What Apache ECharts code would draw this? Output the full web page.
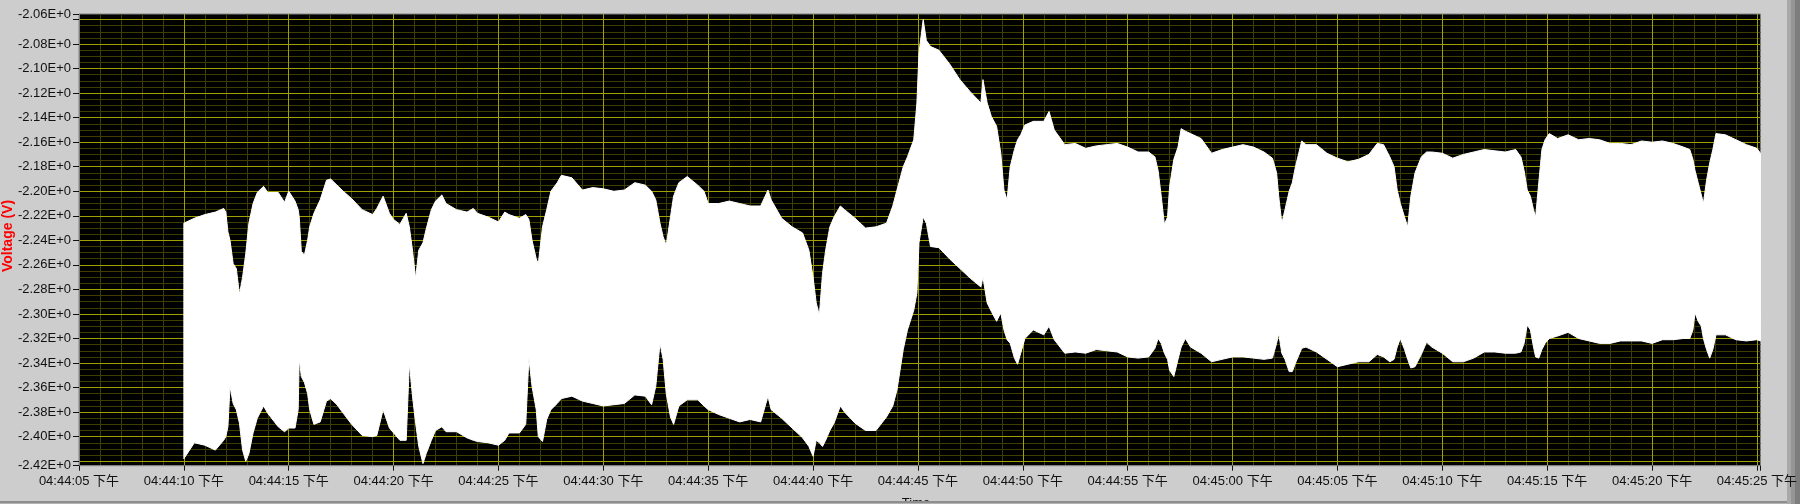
<!DOCTYPE html>
<html><head><meta charset="utf-8">
<script src="https://cdn.jsdelivr.net/npm/echarts@6/dist/echarts.min.js"></script>
<style>html,body{margin:0;padding:0;background:#cdcdcd;}#c{width:1800px;height:504px;}</style>
</head><body><div id="c"></div>
<script>
// seconds elapsed since 04:44:05 PM
const secondsFrom044405 = [
  5.0,5.5,6.0,6.5,6.9,7.0,7.1,7.2,7.35,7.5,7.65,7.8,7.95,8.1,8.3,8.5,8.8,
  9.0,9.5,9.8,10.0,10.3,10.45,10.5,10.6,10.75,10.9,11.0,11.2,11.5,11.8,12.0,12.3,12.6,
  13.0,13.5,14.0,14.2,14.5,14.8,15.0,15.3,15.6,15.75,15.9,16.05,16.2,16.4,16.55,16.8,17.0,17.3,
  17.5,18.0,18.5,18.8,19.0,19.5,20.0,20.3,20.5,21.0,21.3,21.45,21.6,21.8,21.9,22.1,22.3,22.5,22.8,
  23.0,23.5,24.0,24.5,25.0,25.5,26.0,26.5,27.0,27.3,27.5,27.7,27.85,28.0,28.2,28.35,28.6,29.0,29.5,29.8,30.0,
  30.5,31.0,31.5,32.0,32.5,32.85,33.0,33.5,34.0,34.5,34.8,35.0,35.15,35.3,35.45,35.6,35.8,36.0,36.3,36.5,
  37.0,37.5,38.0,38.5,38.8,39.0,39.3,39.5,39.8,39.95,40.05,40.25,40.4,40.6,41.0,41.5,42.0,42.5,43.0,
  43.1,43.3,43.5,43.75,43.95,44.1,44.25,44.4,44.6,44.75,44.9,45.1,45.5,46.0,46.25,46.5,47.0,
  47.5,48.0,48.5,49.0,49.5,50.0,50.5,51.0,51.3,51.45,51.6,51.75,51.9,52.0,52.2,52.4,52.55,52.75,53.0,
  53.5,54.0,54.5,55.0,55.5,56.0,56.5,56.9,57.1,57.2,57.35,57.5,57.7,57.85,58.0,58.3,58.5,
  59.0,59.5,60.0,60.5,61.0,61.5,61.9,62.2,62.5,62.7,62.85,63.0,63.2,63.35,63.5,63.7,64.0,64.25,64.5,
  65.0,65.5,66.0,66.5,67.0,67.5,68.0,68.5,68.75,68.9,69.05,69.2,69.35,69.45,69.6,69.75,69.9,70.1,
  70.5,71.0,71.5,72.0,72.5,73.0,73.5,74.0,74.5,75.0,75.5,76.0,76.5,76.8,
  76.95,77.05,77.2,77.35,77.45,77.6,77.75,77.9,78.05,78.5,79.0,79.5,80.0,80.17
];
// upper envelope of the voltage trace (V)
const upperV = [
  -2.226,-2.222,-2.219,-2.217,-2.214,-2.217,-2.233,-2.240,-2.259,-2.263,-2.284,-2.270,-2.251,-2.226,-2.210,-2.201,-2.196,
  -2.201,-2.201,-2.209,-2.200,-2.208,-2.215,-2.221,-2.249,-2.252,-2.240,-2.229,-2.218,-2.207,-2.191,-2.190,-2.195,-2.200,
  -2.206,-2.215,-2.219,-2.214,-2.204,-2.218,-2.223,-2.227,-2.218,-2.229,-2.248,-2.271,-2.248,-2.242,-2.231,-2.215,-2.208,-2.203,
  -2.210,-2.215,-2.217,-2.214,-2.218,-2.221,-2.225,-2.217,-2.219,-2.222,-2.219,-2.223,-2.240,-2.255,-2.259,-2.229,-2.215,-2.200,-2.193,
  -2.187,-2.189,-2.199,-2.197,-2.198,-2.200,-2.199,-2.193,-2.195,-2.200,-2.207,-2.226,-2.237,-2.244,-2.221,-2.204,-2.193,-2.188,-2.195,-2.200,-2.210,
  -2.210,-2.208,-2.210,-2.212,-2.212,-2.199,-2.207,-2.222,-2.229,-2.234,-2.248,-2.270,-2.291,-2.301,-2.267,-2.248,-2.229,-2.221,-2.212,-2.215,
  -2.222,-2.230,-2.229,-2.226,-2.212,-2.199,-2.180,-2.172,-2.158,-2.128,-2.087,-2.060,-2.077,-2.082,-2.085,-2.096,-2.109,-2.119,-2.128,
  -2.109,-2.128,-2.139,-2.147,-2.169,-2.199,-2.207,-2.180,-2.166,-2.158,-2.154,-2.146,-2.143,-2.143,-2.135,-2.150,-2.162,
  -2.161,-2.165,-2.163,-2.162,-2.161,-2.164,-2.168,-2.168,-2.172,-2.183,-2.204,-2.227,-2.221,-2.196,-2.174,-2.164,-2.149,-2.151,-2.153,
  -2.157,-2.169,-2.166,-2.164,-2.162,-2.164,-2.168,-2.173,-2.185,-2.204,-2.226,-2.215,-2.200,-2.193,-2.180,-2.159,-2.162,
  -2.162,-2.169,-2.173,-2.176,-2.174,-2.170,-2.161,-2.162,-2.172,-2.180,-2.199,-2.210,-2.221,-2.229,-2.204,-2.185,-2.172,-2.168,-2.168,
  -2.169,-2.173,-2.170,-2.168,-2.166,-2.167,-2.168,-2.166,-2.172,-2.183,-2.199,-2.204,-2.215,-2.221,-2.193,-2.166,-2.158,-2.153,
  -2.157,-2.154,-2.158,-2.157,-2.158,-2.161,-2.161,-2.162,-2.159,-2.160,-2.159,-2.161,-2.164,-2.166,
  -2.174,-2.183,-2.193,-2.203,-2.210,-2.191,-2.177,-2.166,-2.153,-2.154,-2.158,-2.162,-2.165,-2.169
];
// lower envelope of the voltage trace (V)
const lowerV = [
  -2.418,-2.405,-2.407,-2.411,-2.403,-2.400,-2.392,-2.359,-2.373,-2.378,-2.389,-2.411,-2.420,-2.414,-2.397,-2.385,-2.375,
  -2.381,-2.392,-2.396,-2.393,-2.393,-2.378,-2.336,-2.351,-2.356,-2.365,-2.378,-2.390,-2.388,-2.371,-2.369,-2.374,-2.381,
  -2.390,-2.399,-2.400,-2.399,-2.378,-2.393,-2.397,-2.403,-2.403,-2.340,-2.367,-2.389,-2.408,-2.422,-2.414,-2.403,-2.395,-2.392,
  -2.396,-2.396,-2.401,-2.403,-2.404,-2.405,-2.407,-2.403,-2.397,-2.397,-2.390,-2.336,-2.359,-2.378,-2.400,-2.404,-2.386,-2.378,-2.373,
  -2.369,-2.367,-2.371,-2.373,-2.375,-2.374,-2.373,-2.366,-2.367,-2.374,-2.359,-2.324,-2.337,-2.365,-2.384,-2.390,-2.375,-2.370,-2.370,-2.375,-2.378,
  -2.382,-2.385,-2.388,-2.386,-2.388,-2.367,-2.378,-2.385,-2.393,-2.401,-2.408,-2.416,-2.403,-2.405,-2.408,-2.403,-2.395,-2.389,-2.375,-2.380,
  -2.389,-2.395,-2.395,-2.384,-2.375,-2.362,-2.329,-2.313,-2.297,-2.283,-2.242,-2.221,-2.226,-2.245,-2.246,-2.255,-2.263,-2.271,-2.278,
  -2.270,-2.291,-2.298,-2.306,-2.299,-2.313,-2.321,-2.324,-2.336,-2.341,-2.332,-2.320,-2.313,-2.317,-2.310,-2.321,-2.332,
  -2.331,-2.332,-2.329,-2.330,-2.331,-2.335,-2.336,-2.335,-2.328,-2.320,-2.324,-2.332,-2.337,-2.346,-2.351,-2.337,-2.327,-2.320,-2.327,
  -2.332,-2.339,-2.337,-2.335,-2.335,-2.336,-2.337,-2.336,-2.324,-2.316,-2.332,-2.337,-2.347,-2.347,-2.340,-2.328,-2.327,
  -2.331,-2.337,-2.343,-2.341,-2.339,-2.339,-2.333,-2.335,-2.339,-2.337,-2.327,-2.320,-2.329,-2.337,-2.344,-2.343,-2.333,-2.323,-2.327,
  -2.332,-2.339,-2.339,-2.336,-2.331,-2.331,-2.332,-2.332,-2.331,-2.324,-2.309,-2.313,-2.327,-2.335,-2.336,-2.329,-2.324,-2.320,
  -2.318,-2.315,-2.320,-2.322,-2.324,-2.324,-2.322,-2.322,-2.322,-2.324,-2.321,-2.321,-2.320,-2.320,
  -2.313,-2.299,-2.306,-2.310,-2.320,-2.329,-2.336,-2.329,-2.317,-2.317,-2.321,-2.322,-2.321,-2.322
];
const xTickLabels = [
  '04:44:05 下午','04:44:10 下午','04:44:15 下午','04:44:20 下午','04:44:25 下午','04:44:30 下午',
  '04:44:35 下午','04:44:40 下午','04:44:45 下午','04:44:50 下午','04:44:55 下午','04:45:00 下午',
  '04:45:05 下午','04:45:10 下午','04:45:15 下午','04:45:20 下午','04:45:25 下午'
];
const yTickValues = [-2.42,-2.40,-2.38,-2.36,-2.34,-2.32,-2.30,-2.28,-2.26,-2.24,-2.22,-2.20,-2.18,-2.16,-2.14,-2.12,-2.10,-2.08,-2.06];
const yTickLabels = ['-2.42E+0','-2.40E+0','-2.38E+0','-2.36E+0','-2.34E+0','-2.32E+0','-2.30E+0','-2.28E+0','-2.26E+0','-2.24E+0','-2.22E+0','-2.20E+0','-2.18E+0','-2.16E+0','-2.14E+0','-2.12E+0','-2.10E+0','-2.08E+0','-2.06E+0'];
const yMin = -2.4237, yMax = -2.0555, xMax = 80.17;

const FONT = "'Liberation Sans','Noto Sans CJK SC',sans-serif";
const MAJOR = '#a0a000', MINOR = '#3e3e00';

// dataset rows: [time, upper, lower]
const envelopeRows = secondsFrom044405.map((t, i) => [t, upperV[i], lowerV[i]]);

function yFmt(v) {
  if (Math.abs(v - yMin) < 1e-6) return yTickLabels[0];
  if (Math.abs(v - yMax) < 1e-6) return yTickLabels[yTickLabels.length - 1];
  for (let i = 1; i < yTickValues.length - 1; i++) {
    if (Math.abs(v - yTickValues[i]) < 1e-6) return yTickLabels[i];
  }
  return '';
}
function xFmt(v) {
  const i = Math.round(v / 5);
  if (Math.abs(v - i * 5) < 1e-6 && i >= 0 && i < xTickLabels.length) return xTickLabels[i];
  return '';
}

// one filled polygon: upper edge left->right, lower edge right->left, positioned via api.coord
function renderEnvelope(params, api) {
  if (params.dataIndexInside !== 0) return null;
  const n = params.dataInsideLength;
  const top = [], bottom = [];
  for (let j = 0; j < n; j++) {
    const t = api.value(0, j);
    top.push(api.coord([t, api.value(1, j)]));
    bottom.push(api.coord([t, api.value(2, j)]));
  }
  const points = top.concat(bottom.reverse());
  return {
    type: 'polygon',
    shape: {points: points},
    style: {fill: '#ffffff', stroke: '#ffffff', lineWidth: 1}
  };
}

const chart = echarts.init(document.getElementById('c'), null, {renderer: 'canvas'});
chart.setOption({
  animation: false,
  backgroundColor: '#cdcdcd',
  grid: {left: 79, right: 24, top: 14, bottom: 38.3, show: true, backgroundColor: '#000', borderColor: '#808080', borderWidth: 1},
  xAxis: [
    {type: 'value', min: 0, max: xMax, interval: 5, position: 'bottom', z: 1,
     axisLine: {show: true, lineStyle: {color: '#808080'}},
     axisTick: {show: true, length: 5, lineStyle: {color: '#111'}},
     axisLabel: {show: true, formatter: xFmt, color: '#111', fontSize: 13, fontFamily: FONT, margin: 9},
     splitLine: {show: true, showMinLine: false, showMaxLine: false, lineStyle: {color: MAJOR, width: 1}}},
    {type: 'value', min: 0, max: xMax, interval: 1, position: 'bottom', z: 0,
     axisLine: {show: false}, axisTick: {show: false}, axisLabel: {show: false},
     splitLine: {show: true, showMinLine: false, showMaxLine: false, lineStyle: {color: MINOR, width: 1}}}
  ],
  yAxis: [
    {type: 'value', min: yMin, max: yMax, minInterval: 0.02, maxInterval: 0.02, splitNumber: 18, z: 1,
     axisLine: {show: true, lineStyle: {color: '#808080'}},
     axisTick: {show: true, length: 6, lineStyle: {color: '#111'}},
     axisLabel: {show: true, formatter: yFmt, color: '#111', fontSize: 13, fontFamily: FONT, margin: 8},
     splitLine: {show: true, showMinLine: false, showMaxLine: false, lineStyle: {color: MAJOR, width: 1}}},
    {type: 'value', min: yMin, max: yMax, minInterval: 0.005, maxInterval: 0.005, splitNumber: 74, z: 0,
     axisLine: {show: false}, axisTick: {show: false}, axisLabel: {show: false},
     splitLine: {show: true, showMinLine: false, showMaxLine: false, lineStyle: {color: MINOR, width: 1}}}
  ],
  series: [
    {type: 'custom', name: 'Voltage', xAxisIndex: 0, yAxisIndex: 0, data: envelopeRows,
     encode: {x: 0, y: [1, 2]}, renderItem: renderEnvelope, clip: true, silent: true, z: 3}
  ],
  graphic: [
    {type: 'rect', z: 0, shape: {x: 1787, y: 0, width: 4, height: 504}, style: {fill: '#a9a9a9'}},
    {type: 'rect', z: 0, shape: {x: 1791, y: 0, width: 4, height: 504}, style: {fill: '#959595'}},
    {type: 'rect', z: 0, shape: {x: 1795, y: 0, width: 5, height: 504}, style: {fill: '#7d7d7d'}},
    {type: 'text', z: 1, style: {x: 916, y: 497, text: 'Time', textAlign: 'center', textVerticalAlign: 'top', fontSize: 13, fontFamily: FONT, fill: '#111'}},
    {type: 'rect', z: 5, shape: {x: 0, y: 501, width: 1787, height: 2}, style: {fill: '#8e8e8e'}},
    {type: 'rect', z: 5, shape: {x: 0, y: 503, width: 1787, height: 1}, style: {fill: '#b4b4b4'}},
    {type: 'text', z: 1, x: 8, y: 236, rotation: Math.PI / 2,
     style: {x: 0, y: 0, text: 'Voltage (V)', textAlign: 'center', textVerticalAlign: 'middle', fontSize: 14, fontWeight: 'bold', fontFamily: FONT, fill: '#ff0000'}}
  ]
});
</script></body></html>
